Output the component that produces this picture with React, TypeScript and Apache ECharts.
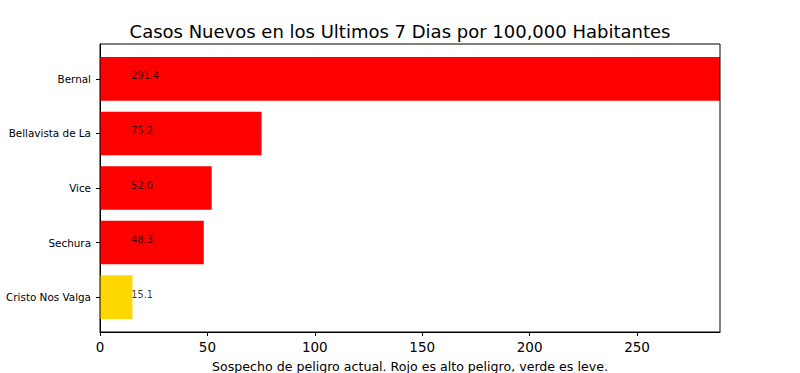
import React, { useEffect, useRef } from "react";
import * as echarts from "echarts";

const categories = ["Cristo Nos Valga", "Sechura", "Vice", "Bellavista de La", "Bernal"];
const values = [15.1, 48.3, 52.0, 75.2, 291.4];
const barColors = ["#ffd700", "#ff0000", "#ff0000", "#ff0000", "#ff0000"];
const xTicks = [0, 50, 100, 150, 200, 250];
const yTicks = [0, 1, 2, 3, 4];
const labelAnchor = 14.6;
const xMax = 288.6;
const yMin = -0.64;
const yMax = 4.64;
const barHeight = 0.8;

const FONT = "DejaVu Sans";

export default function App() {
  const ref = useRef<HTMLDivElement>(null);
  useEffect(() => {
    document.body.style.margin = "0";
    const chart = echarts.init(ref.current!, null, { renderer: "svg" });
    chart.setOption({
      animation: false,
      backgroundColor: "#ffffff",
      title: {
        text: "Casos Nuevos en los Ultimos 7 Dias por 100,000 Habitantes",
        left: "center",
        top: 17,
        textStyle: { fontFamily: FONT, fontSize: 18, fontWeight: "normal", color: "#000" },
      },
      grid: { left: 100, top: 44, width: 620, height: 288, outerBoundsMode: "none", containLabel: false },
      xAxis: {
        type: "value",
        min: 0,
        max: xMax,
        interval: 50,
        axisLine: { show: true, onZero: false, lineStyle: { color: "#000", width: 1 } },
        axisTick: { show: true, length: 4, lineStyle: { color: "#000" }, customValues: xTicks },
        axisLabel: {
          fontFamily: FONT,
          fontSize: 13.5,
          color: "#000",
          margin: 8,
          customValues: xTicks,
        },
        splitLine: { show: false },
        name: "Sospecho de peligro actual. Rojo es alto peligro, verde es leve.",
        nameLocation: "middle",
        nameGap: 28,
        nameTextStyle: { fontFamily: FONT, fontSize: 12.6, color: "#000" },
      },
      yAxis: {
        type: "value",
        min: yMin,
        max: yMax,
        axisLine: { show: true, onZero: false, lineStyle: { color: "#000", width: 1 } },
        axisTick: { show: true, length: 4, lineStyle: { color: "#000" }, customValues: yTicks },
        axisLabel: {
          fontFamily: FONT,
          fontSize: 10.4,
          color: "#000",
          margin: 9,
          customValues: yTicks,
          formatter: (v: number) => categories[Math.round(v)] ?? "",
        },
        splitLine: { show: false },
      },
      series: [
        {
          type: "custom",
          data: values.map((v, i) => [v, i]),
          renderItem: (params: any, api: any) => {
            const v = api.value(0);
            const idx = api.value(1);
            const p0 = api.coord([0, idx]);
            const p1 = api.coord([v, idx]);
            const h = api.size([0, barHeight])[1];
            const cs = params.coordSys;
            const right = Math.min(p1[0], cs.x + cs.width);
            return {
              type: "rect",
              shape: { x: p0[0], y: p0[1] - h / 2, width: right - p0[0], height: h },
              style: { fill: barColors[idx] },
            };
          },
          z: 2,
        },
        {
          type: "scatter",
          symbolSize: 0,
          data: values.map((v, i) => [labelAnchor, i]),
          label: {
            show: true,
            position: [0, -8],
            formatter: (p: any) => values[p.dataIndex].toFixed(1),
            fontFamily: FONT,
            fontSize: 9.7,
            color: "#000",
          },
          z: 5,
        },
      ],
      graphic: [
        {
          type: "rect",
          shape: { x: 100, y: 44, width: 620, height: 288 },
          style: { fill: "none", stroke: "#000", lineWidth: 1 },
          z: 10,
          silent: true,
        },
      ],
    });
    return () => chart.dispose();
  }, []);
  return <div ref={ref} style={{ width: 800, height: 373 }} />;
}
